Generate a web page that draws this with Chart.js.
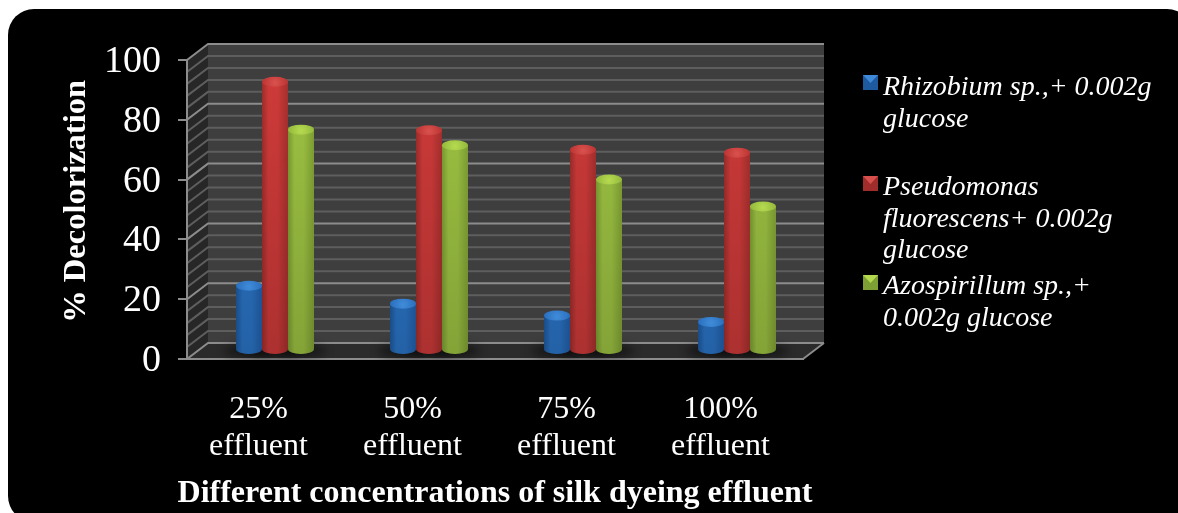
<!DOCTYPE html>
<html>
<head>
<meta charset="utf-8">
<style>
  html, body { margin: 0; padding: 0; background: #fff; overflow: hidden; }
  canvas { display: block; }
</style>
<script src="https://cdn.jsdelivr.net/npm/chart.js@4"></script>
</head>
<body>
<canvas id="chart" width="1178" height="513"></canvas>
<script>
const categories = [['25%', 'effluent'], ['50%', 'effluent'], ['75%', 'effluent'], ['100%', 'effluent']];
const rhizobium = [21.5, 15.5, 11.5, 9.4];
const pseudomonas = [89.7, 73.5, 67, 66];
const azospirillum = [73.7, 68.5, 57, 48];
const rhizobiumLabel = ['Rhizobium sp.,+ 0.002g', 'glucose'];
const pseudomonasLabel = ['Pseudomonas', 'fluorescens+ 0.002g', 'glucose'];
const azospirillumLabel = ['Azospirillum sp.,+', '0.002g glucose'];
const xTitle = 'Different concentrations of silk dyeing effluent';
const yTicks = [0, 20, 40, 60, 80, 100];
const minorStep = 4;

// depth of the fake 3D box, in pixels
const depthX = 21;
const depthY = 16;

function shade(ctx, x0, x1, colors) {
  const g = ctx.createLinearGradient(x0, 0, x1, 0);
  g.addColorStop(0, colors[0]);
  g.addColorStop(0.25, colors[1]);
  g.addColorStop(0.6, colors[1]);
  g.addColorStop(1, colors[2]);
  return g;
}

const cylinderColors = [
  { side: ['#1e5aa0', '#2b76c9', '#2260ac'], top: '#2a6fbd', shine: '#3f8ad8' },
  { side: ['#a02d2b', '#d03b3a', '#a8302e'], top: '#bb3432', shine: '#d8504c' },
  { side: ['#7d9f33', '#9fc543', '#82a435'], top: '#93b83c', shine: '#b4d94f' }
];

const boxPlugin = {
  id: 'box',
  beforeDraw(chart) {
    const { ctx, scales: { y }, chartArea: a } = chart;
    // black rounded panel
    ctx.save();
    ctx.fillStyle = '#000';
    ctx.beginPath();
    ctx.roundRect(8, 9, 1185, 513, 26);
    ctx.fill();

    const y0 = y.getPixelForValue(0);
    const y100 = y.getPixelForValue(100);
    // back wall
    ctx.fillStyle = '#3e3e3e';
    ctx.fillRect(a.left + depthX, y100 - depthY, a.right - a.left, y0 - y100);
    // side wall and floor
    ctx.fillStyle = '#272727';
    ctx.beginPath();
    ctx.moveTo(a.left, y0);
    ctx.lineTo(a.left, y100);
    ctx.lineTo(a.left + depthX, y100 - depthY);
    ctx.lineTo(a.left + depthX, y0 - depthY);
    ctx.closePath();
    ctx.fill();
    ctx.fillStyle = '#2b2b2b';
    ctx.beginPath();
    ctx.moveTo(a.left, y0);
    ctx.lineTo(a.right, y0);
    ctx.lineTo(a.right + depthX, y0 - depthY);
    ctx.lineTo(a.left + depthX, y0 - depthY);
    ctx.closePath();
    ctx.fill();

    // grid lines on both walls
    for (let v = 0; v <= 100; v += minorStep) {
      const p = y.getPixelForValue(v);
      const major = yTicks.includes(v);
      ctx.strokeStyle = major ? '#8c8c8c' : '#5e5e5e';
      ctx.lineWidth = 2;
      ctx.beginPath();
      ctx.moveTo(a.left, p);
      ctx.lineTo(a.left + depthX, p - depthY);
      ctx.lineTo(a.right + depthX, p - depthY);
      ctx.stroke();
    }
    ctx.strokeStyle = '#8c8c8c';
    ctx.beginPath();
    ctx.moveTo(a.right, y0);
    ctx.lineTo(a.right + depthX, y0 - depthY);
    ctx.stroke();
    ctx.restore();
  },
  beforeDatasetsDraw(chart) {
    // bars stand in the middle of the floor
    chart.ctx.save();
    chart.ctx.translate(11, -9);
  },
  afterDatasetsDraw(chart) {
    const ctx = chart.ctx;
    chart.data.datasets.forEach((ds, i) => {
      chart.getDatasetMeta(i).data.forEach(bar => {
        const rx = bar.width / 2;
        ctx.save();
        ctx.fillStyle = 'rgba(0,0,0,0.5)';
        ctx.filter = 'blur(5px)';
        ctx.beginPath();
        ctx.ellipse(bar.x, bar.base + 2, rx + 12, 6, 0, 0, Math.PI * 2);
        ctx.fill();
        ctx.restore();
      });
    });
    chart.data.datasets.forEach((ds, i) => {
      const c = cylinderColors[i];
      chart.getDatasetMeta(i).data.forEach(bar => {
        const rx = bar.width / 2;
        const ry = 5;
        const x0 = bar.x - rx;
        const x1 = bar.x + rx;
        const body = () => {
          ctx.beginPath();
          ctx.moveTo(x0, bar.y);
          ctx.lineTo(x0, bar.base);
          ctx.ellipse(bar.x, bar.base, rx, ry, 0, Math.PI, 0, true);
          ctx.lineTo(x1, bar.y);
          ctx.closePath();
        };
        ctx.fillStyle = shade(ctx, x0, x1, c.side);
        body();
        ctx.fill();
        // bars get darker towards the floor, measured on the whole plot height
        const dark = ctx.createLinearGradient(0, chart.chartArea.top, 0, chart.chartArea.bottom);
        dark.addColorStop(0, 'rgba(0,0,0,0)');
        dark.addColorStop(1, 'rgba(0,0,0,0.17)');
        ctx.fillStyle = dark;
        body();
        ctx.fill();
        const g = ctx.createRadialGradient(bar.x, bar.y + 1, 1, bar.x, bar.y + 1, rx);
        g.addColorStop(0, c.shine);
        g.addColorStop(1, c.top);
        ctx.fillStyle = g;
        ctx.beginPath();
        ctx.ellipse(bar.x, bar.y, rx, ry, 0, 0, Math.PI * 2);
        ctx.fill();
      });
    });
    ctx.restore();
  },
  afterDraw(chart) {
    const ctx = chart.ctx;
    const a = chart.chartArea;
    ctx.save();
    // x title is wider than the plot, the scale title would squeeze it
    ctx.font = 'bold 32px "Liberation Serif"';
    ctx.fillStyle = '#fff';
    ctx.textAlign = 'center';
    ctx.textBaseline = 'middle';
    ctx.fillText(xTitle, (a.left + a.right) / 2, 494);

    // legend with wrapped italic labels
    const tops = [95, 195, 294];
    ctx.font = 'italic 28px "Liberation Serif"';
    ctx.textAlign = 'left';
    ctx.textBaseline = 'alphabetic';
    chart.data.datasets.forEach((ds, i) => {
      const c = cylinderColors[i];
      const by = tops[i] - 20 + (i ? 1 : 0);
      ctx.fillStyle = c.side[0];
      ctx.fillRect(863, by, 15, 15);
      ctx.fillStyle = c.shine;
      ctx.beginPath();
      ctx.moveTo(863, by);
      ctx.lineTo(878, by);
      ctx.lineTo(870.5, by + 8);
      ctx.closePath();
      ctx.fill();
      ctx.fillStyle = '#fff';
      ds.label.forEach((line, n) => ctx.fillText(line, 883, tops[i] + n * 31.5));
    });
    ctx.restore();
  }
};

new Chart(document.getElementById('chart'), {
  type: 'bar',
  data: {
    labels: categories,
    datasets: [
      { label: rhizobiumLabel, data: rhizobium, backgroundColor: '#2a6fbd' },
      { label: pseudomonasLabel, data: pseudomonas, backgroundColor: '#b93331' },
      { label: azospirillumLabel, data: azospirillum, backgroundColor: '#8fb23a' }
    ]
  },
  options: {
    responsive: false,
    animation: false,
    layout: { padding: { left: 0, right: 375, top: 60, bottom: 0 } },
    categoryPercentage: 0.506,
    barPercentage: 1,
    plugins: {
      legend: { display: false },
      tooltip: { enabled: false }
    },
    scales: {
      x: {
        afterFit(s) { s.height = 154; },
        grid: { display: false },
        border: { color: '#8c8c8c', width: 2 },
        ticks: {
          color: '#fff',
          padding: 24,
          maxRotation: 0,
          labelOffset: -5.5,
          font: { family: '"Liberation Serif"', size: 32, lineHeight: '37px' }
        }
      },
      y: {
        min: 0,
        max: 100,
        afterFit(s) { s.width = 187; },
        afterBuildTicks(s) { s.ticks = yTicks.map(v => ({ value: v })); },
        grid: { drawOnChartArea: false, drawTicks: true, tickLength: 9, color: '#8c8c8c', lineWidth: 2 },
        border: { color: '#8c8c8c', width: 2 },
        ticks: {
          color: '#fff',
          padding: 17,
          labelOffset: 2,
          font: { family: '"Liberation Serif"', size: 38 }
        },
        title: {
          display: true,
          text: '\u00a0\u00a0% Decolorization',
          color: '#fff',
          padding: { top: 57, bottom: 0 },
          font: { family: '"Liberation Serif"', size: 32.5, weight: 'bold' }
        }
      }
    }
  },
  plugins: [boxPlugin]
});
</script>
</body>
</html>
